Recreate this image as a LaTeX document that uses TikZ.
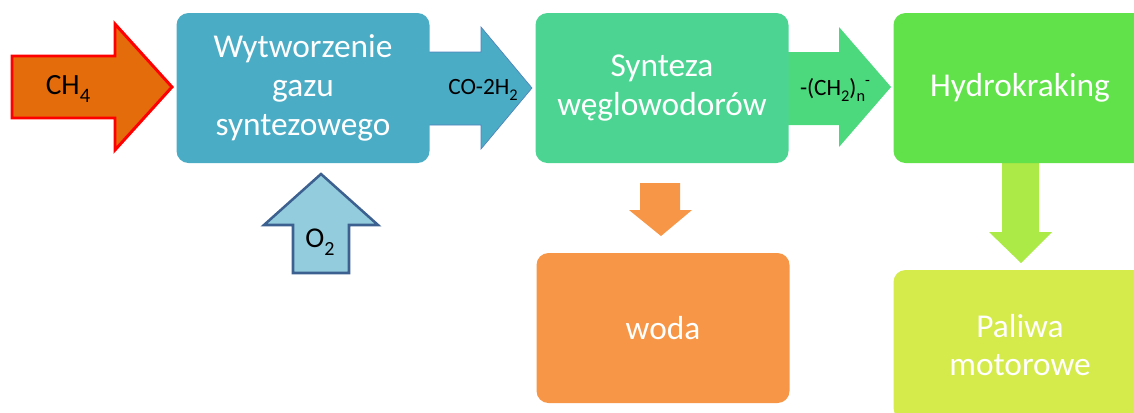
\documentclass[tikz,border=0pt]{standalone}
\usepackage{fontspec}
\setmainfont{Carlito}

\definecolor{gazblue}{HTML}{4BACC6}
\definecolor{coline}{HTML}{4F81BD}
\definecolor{syngreen}{HTML}{4CD493}
\definecolor{chgreen}{HTML}{4CD87D}
\definecolor{hydgreen}{HTML}{62E24A}
\definecolor{limearrow}{HTML}{ABEA47}
\definecolor{palyellow}{HTML}{D5EB4B}
\definecolor{wodaorange}{HTML}{F79646}
\definecolor{metorange}{HTML}{E46C0A}
\definecolor{oxfill}{HTML}{93CDDD}
\definecolor{oxline}{HTML}{3C6090}

\newcommand{\dol}[1]{\raisebox{-.28em}{\scalebox{.7}{#1}}}
\newcommand{\gora}[1]{\raisebox{.4em}{\scalebox{.68}{#1}}}

\tikzset{
  proc/.style={rounded corners=9pt,minimum width=189.75pt,minimum height=112.5pt,
    align=center,text=white,font=\fontsize{25}{29}\selectfont,inner sep=0},
  lbl/.style={text=black,inner sep=0}
}

\begin{document}
\begin{tikzpicture}[x=0.75pt,y=-0.75pt]
    \useasboundingbox (0,0) rectangle (1134,412);
    % strzalki poziome
    \filldraw[fill=metorange,draw=red,line width=2.2pt,line join=miter]
      (12,56) -- (115,56) -- (115,24) -- (172,87) -- (115,150) -- (115,118) -- (12,118) -- cycle;
    \filldraw[fill=gazblue,draw=coline,line width=0.5pt]
      (420,52) -- (481,52) -- (481,27) -- (532,88) -- (481,149) -- (481,125) -- (420,125) -- cycle;
    \fill[chgreen]
      (780,52) -- (839,52) -- (839,27) -- (891,87) -- (839,147) -- (839,125) -- (780,125) -- cycle;
    % strzalki pionowe
    \filldraw[fill=oxfill,draw=oxline,line width=1.9pt,line join=miter]
      (321,174) -- (378,225) -- (349,225) -- (349,273) -- (293,273) -- (293,225) -- (264,225) -- cycle;
    \fill[wodaorange]
      (640,183) -- (680,183) -- (680,210) -- (692,210) -- (661,236) -- (629,210) -- (640,210) -- cycle;
    \fill[limearrow]
      (1002,160) -- (1039,160) -- (1039,232) -- (1052,232) -- (1021,263) -- (989,232) -- (1002,232) -- cycle;
    % bloki
    \node[proc,fill=gazblue] (gaz) at (303,88) {Wytworzenie\\gazu\\syntezowego};
    \node[proc,fill=syngreen] (synteza) at (662,88) {Synteza\\węglowodorów};
    \node[proc,fill=hydgreen] (hydro) at (1020,88) {Hydrokraking};
    \node[proc,fill=wodaorange] (woda) at (663,328) {woda};
    \node[proc,fill=palyellow] (paliwa) at (1020,345) {Paliwa\\motorowe};
    % opisy strzalek
    \node[lbl,font=\fontsize{22}{25}\selectfont] (metan) at (68,89) {CH\dol{4}};
    \node[lbl,font=\fontsize{17.5}{20}\selectfont] (syngaz) at (483,90) {CO-2H\dol{2}};
    \node[lbl,font=\fontsize{17.5}{20}\selectfont] (lancuch) at (835,90) {-(CH\dol{2})\dol{n}\gora{-}};
    \node[lbl,font=\fontsize{21.5}{24}\selectfont] (tlen) at (320,242) {O\dol{2}};
\end{tikzpicture}
\end{document}
